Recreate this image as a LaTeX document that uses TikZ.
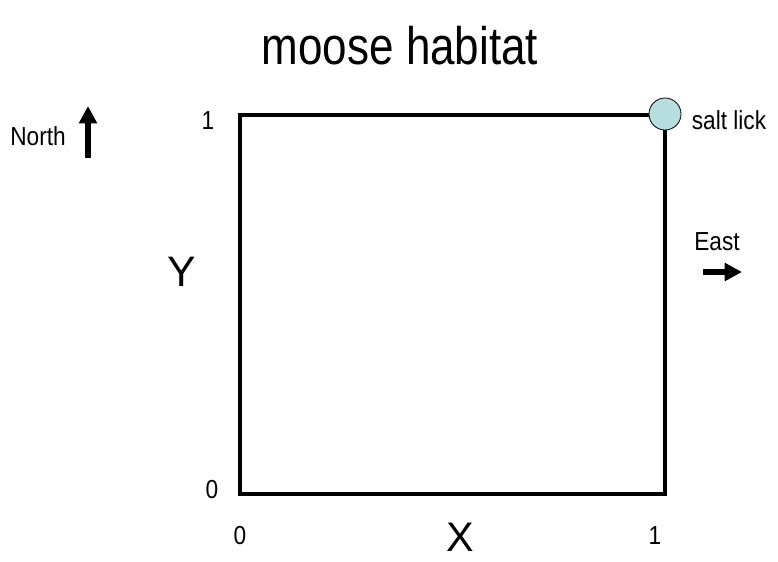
\documentclass[tikz,border=0pt]{standalone}
\usepackage{graphicx}
\usepackage{fontspec}
\setmainfont{Liberation Sans}
\usetikzlibrary{arrows.meta}
\definecolor{lickblue}{HTML}{B6DDE0}
\newcommand{\vstretch}[2]{\scalebox{1}[#1]{#2}}

\begin{document}
\begin{tikzpicture}[>=Latex,font=\fontsize{17}{20}\selectfont,x=0.75pt,y=-0.75pt]
\useasboundingbox (0,0) rectangle (778,561);
\node[anchor=base] (title) at (400,64) {\fontsize{33}{38}\selectfont\vstretch{1.2}{moose habitat}};
\draw[line width=3pt,line join=miter] (240,115) rectangle (665,494);
\node (ytop) at (208,121) {\vstretch{1.15}{1}};
\node (ybot) at (212,490) {\vstretch{1.15}{0}};
\node (xleft) at (240,536) {\vstretch{1.15}{0}};
\node (xright) at (655,536) {\vstretch{1.15}{1}};
\node (ylab) at (182,272) {\fontsize{32}{36}\selectfont Y};
\node[anchor=base,inner sep=0.5pt] (xlab) at (460,551) {\fontsize{31}{34}\selectfont X};
\draw[fill=lickblue,line width=0.6pt] (665,114) circle(16);
\node (lick) at (729,120) {\vstretch{1.15}{salt lick}};
\node (north) at (38,136) {\vstretch{1.15}{North}};
\coordinate (n0) at (88,158);
\coordinate (n1) at (88,106);
\draw[line width=4.5pt,arrows={-Triangle[length=13pt,width=13pt]}] (n0)--(n1);
\node (east) at (717,242) {\vstretch{1.15}{East}};
\coordinate (e0) at (703,272);
\coordinate (e1) at (742,272);
\draw[line width=4.5pt,arrows={-Triangle[length=13pt,width=13pt]}] (e0)--(e1);
\end{tikzpicture}
\end{document}
